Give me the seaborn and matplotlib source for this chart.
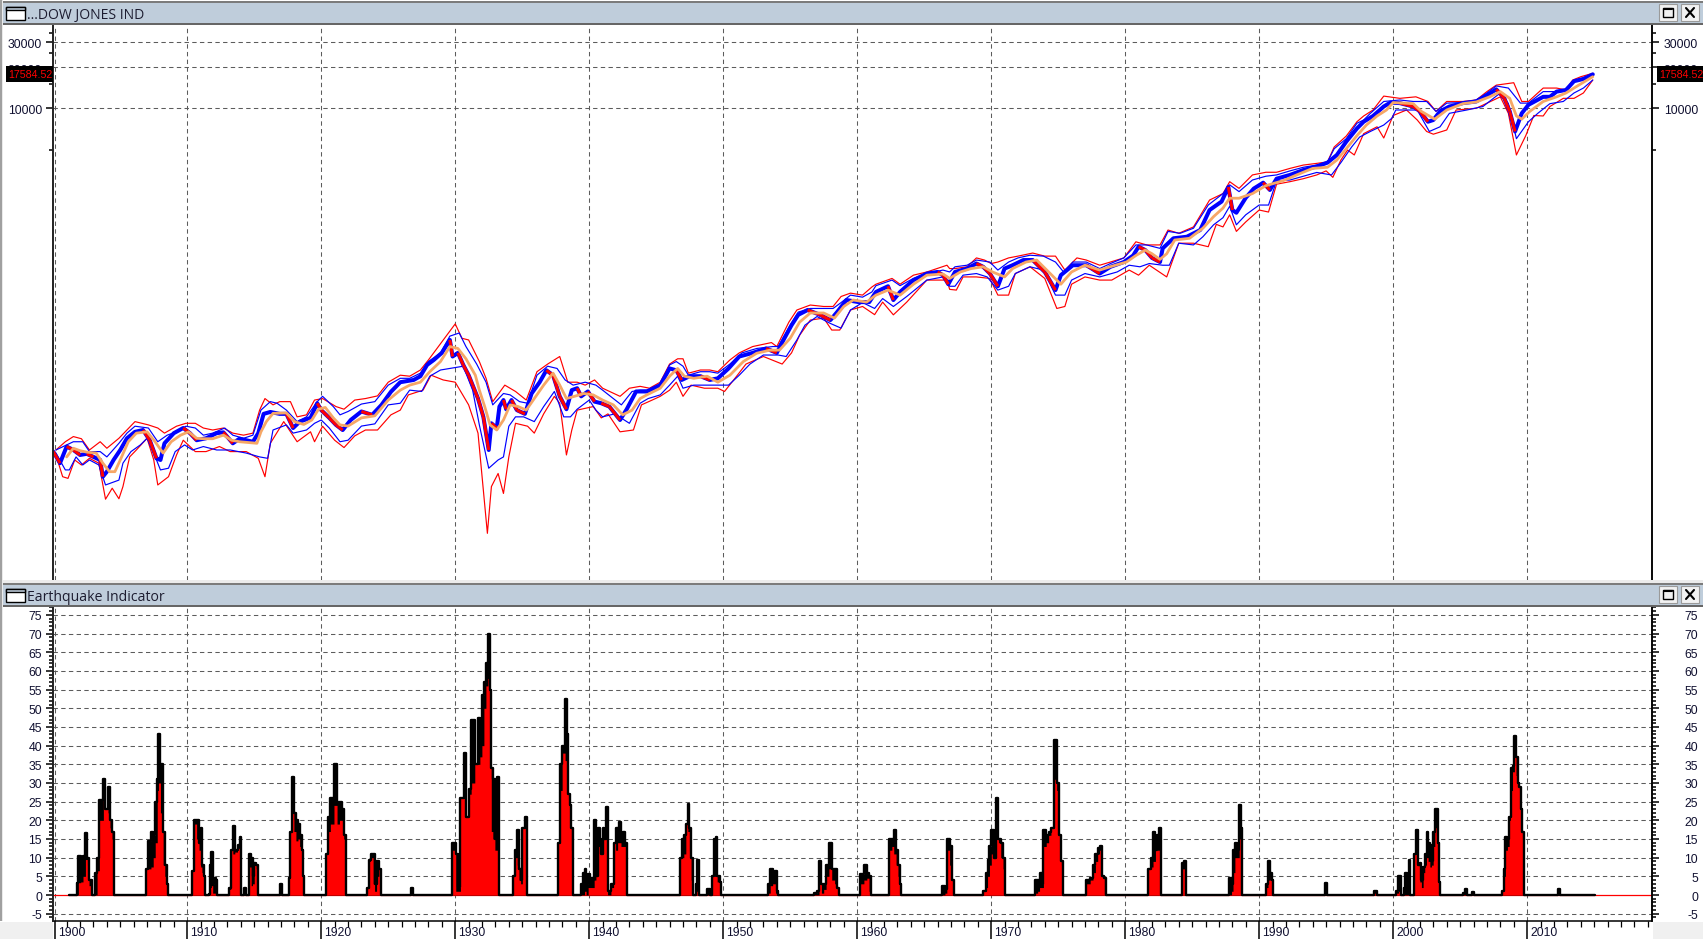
import numpy as np
import matplotlib
matplotlib.use("Agg")
import matplotlib.pyplot as plt
from matplotlib.patches import Rectangle
from matplotlib.ticker import NullFormatter
from matplotlib.transforms import ScaledTranslation
import seaborn as sns

close_years = [1900.0,1900.5,1901.0,1901.5,1902,1902.5,1903,1903.5,1903.7,1904,1904.5,1905,1905.5,1906.1,1906.7,1907.2,1907.7,1908,1908.3,1909,1909.7,1910.2,1910.7,1911.4,1912.2,1912.7,1913.4,1913.9,1914.9,1915.3,1915.7,1916.2,1916.9,1917.4,1917.9,1918.4,1919.2,1919.7,1920,1920.6,1921.1,1921.6,1922.2,1923,1923.8,1924.5,1925.2,1925.9,1926.9,1927.4,1927.9,1928.4,1929,1929.6,1929.8,1930.2,1930.6,1931,1931.3,1931.7,1932.1,1932.5,1932.7,1933.1,1933.3,1933.6,1933.8,1934.2,1934.6,1935.2,1935.7,1936.3,1936.8,1937.3,1937.8,1938.3,1938.7,1939.1,1939.4,1939.9,1940.4,1940.9,1941.5,1942.3,1942.8,1943.5,1944.3,1945.3,1946,1946.5,1946.9,1947.5,1948.3,1949,1949.6,1950.4,1951.2,1952.2,1953.2,1954,1954.5,1955.1,1955.6,1956.3,1957.2,1958,1958.5,1959.2,1960.1,1960.9,1961.4,1962.3,1962.7,1963.2,1964.2,1965.2,1966,1966.4,1966.8,1967.3,1968.2,1968.9,1969.4,1969.9,1970.5,1971,1971.6,1972.4,1973.1,1974,1974.8,1975.2,1976.1,1977.1,1978.1,1978.9,1979.9,1980.6,1981,1981.5,1982,1982.6,1982.8,1983.6,1984.6,1985.6,1986.3,1987.2,1987.7,1988,1988.3,1989,1989.6,1990.3,1990.8,1991.3,1992.3,1993.3,1994.3,1995.1,1995.8,1996.5,1997.3,1997.8,1998.5,1999.3,1999.8,2000.5,2001.5,2002,2002.6,2003,2003.5,2004.2,2005.2,2006.2,2007,2007.7,2008.3,2008.7,2009.1,2009.6,2010.1,2011.2,2011.7,2012.2,2012.9,2013.5,2014.2,2014.9]
close = [33.1,27.3,36,34,31.3,31.9,30.3,28.8,21.8,23.7,28.8,34,41.3,46,47.4,40,29.6,28.8,38,45,49,45,40,41.3,45,45.6,38,41,39,45,62,64,62,62,49,54.5,58,74,66,58,51.6,47.4,56,64.5,61,72,89.5,105,109,116,140,152,171,212,161,171,140,118,100,80,59,34,53,49,70,78,67,78,66,62,87,105,128,118,83,67,92,95,83,90,76,74,70,56,67,90,90,100,132,128,109,116,116,109,112,132,161,171,184,171,212,271,322,349,323,295,337,412,398,398,471,518,412,471,574,640,657,623,536,657,695,756,716,640,518,695,735,801,801,657,486,623,735,735,640,716,775,864,1000,946,830,775,973,1150,1180,1320,1841,2120,2700,1841,1760,2255,2630,2900,2570,3100,3300,3582,3800,4050,4600,5740,7150,8000,8800,10300,11000,10900,10300,9500,8000,8230,9500,10300,10900,11200,12400,13700,11800,9500,6800,9200,10600,12100,12100,13200,13560,15700,16300,17584]

avg_years = [1901,1901.5,1902,1902.5,1903.2,1903.7,1904.2,1904.6,1905,1905.6,1906.2,1907,1907.6,1908.2,1908.8,1909.5,1910.1,1910.7,1911.2,1911.9,1912.7,1913.3,1913.9,1915.2,1915.5,1915.9,1916.4,1917.4,1918,1918.7,1919.3,1919.8,1920.3,1920.9,1921.4,1922,1923,1924,1925,1925.9,1926.6,1927.4,1928.1,1928.9,1929.6,1930.2,1930.8,1931.5,1931.8,1932.2,1932.6,1933.1,1933.6,1934.1,1934.7,1935.3,1935.9,1936.6,1937.3,1937.8,1938.3,1938.9,1939.6,1940.3,1941,1941.8,1942.5,1943.2,1943.8,1944.3,1945.3,1946,1946.6,1947.1,1947.8,1948.8,1949.6,1950.5,1951.5,1952.5,1953.5,1954.2,1955,1955.7,1956.5,1957.5,1958.3,1959,1959.7,1960.7,1961.4,1962.3,1963.2,1964.2,1965.2,1966.4,1966.9,1967.7,1968.5,1969.4,1970.1,1971,1971.6,1972.6,1973.4,1974.4,1975.2,1976,1977,1978.1,1979.1,1980.1,1980.8,1981.5,1982,1982.6,1983.1,1983.7,1984.8,1985.8,1986.6,1987.3,1987.8,1988.5,1989.5,1990.5,1991.8,1992.8,1994,1995.1,1995.8,1996.5,1997.3,1998,1998.8,1999.5,2000,2001.5,2002.1,2003.1,2004,2005.2,2006.2,2007.2,2008,2008.7,2009.2,2009.6,2010.2,2011.2,2012.2,2012.9,2013.9,2014.9]
avg = [30.3,35,33.6,32.8,32.3,27.3,23.7,23.7,28.8,39,45,46,39,32.3,39,43.5,46,41.3,41,41,43.5,40,39,38,46,54.5,62.5,63,54.5,52,56,67,69,58,51.6,50.6,58,60,78,92,100,105,125,148,190,184,155,118,92,70,51.6,47.4,56,72,70,66,80,100,122,100,80,83,87,85,78,72,61,66,80,85,95,116,132,116,112,116,105,118,148,170,179,179,218,285,332,332,305,370,412,398,447,486,447,536,623,635,590,657,695,716,657,605,695,775,801,640,536,657,735,678,727,775,864,946,890,810,890,1118,1150,1360,1650,1900,2240,2240,2420,2760,3000,3300,3680,3750,4230,5100,6350,7570,8800,9720,11000,10800,9500,8350,9720,10800,11100,12100,13200,11800,8800,8350,9500,11200,12100,12900,14800,16900]

inner_up_years = [1900.2,1901,1901.5,1902.2,1902.7,1903.5,1904,1904.9,1905.5,1906.1,1907.1,1907.8,1908.5,1909.2,1909.9,1910.6,1911.2,1911.9,1912.8,1913.4,1914.2,1914.9,1915.5,1916.2,1916.7,1917.4,1918.2,1918.9,1919.7,1920.1,1920.9,1921.4,1922,1923,1924,1925,1925.9,1926.6,1927.4,1928,1928.9,1929.6,1930.3,1930.8,1931.6,1932.3,1932.8,1933.6,1934.1,1934.8,1935.4,1936.1,1936.9,1937.6,1938.2,1938.8,1939.7,1940.5,1941,1941.8,1942.4,1943.2,1943.8,1944.8,1945.3,1946,1946.5,1947,1947.4,1948.3,1949,1949.6,1950.5,1951.4,1952.5,1953.7,1954.1,1955,1955.6,1956.5,1957.5,1958.2,1958.8,1959.5,1960.4,1961.1,1961.4,1962.6,1963.2,1964.2,1965.2,1966.4,1966.9,1967.3,1968.2,1968.9,1969.9,1970.5,1971.3,1972,1972.9,1973.9,1974.8,1975.4,1976.1,1977.1,1978.1,1978.9,1979.9,1980.8,1981.6,1982.6,1983.2,1984.1,1985.1,1986.2,1987.3,1987.8,1988.5,1989.5,1990.5,1991.3,1992.3,1993.3,1994.3,1995.1,1995.6,1996.5,1997.3,1997.8,1998.3,1999.3,2000.5,2001.5,2002.5,2003.2,2004,2005.2,2006.2,2007,2007.7,2008.6,2009.5,2010.1,2011.2,2012.2,2012.9,2013.4,2014,2014.9]
inner_up = [34,37,39,39,33.1,33.1,30.3,38,45,50.5,49,39,43.5,46,50.5,49,43.5,45,49,43.5,41.3,43.5,66,76,74,66,54.5,59,76,83,70,61,64.5,73,76,100,112,112,122,148,171,226,238,190,142,105,72,87,85,76,74,118,137,132,109,100,105,100,92,80,72,90,92,92,100,140,148,137,118,125,125,122,142,171,184,190,190,271,337,358,358,358,395,447,432,471,523,574,523,590,640,678,657,716,735,801,775,678,775,830,868,855,775,657,775,775,695,756,830,1030,1030,973,1290,1250,1360,2000,2420,2800,2500,3033,3230,3300,3530,3750,3890,4100,5100,6030,7800,8230,9200,11200,11480,11200,11200,9500,10900,11000,11480,12900,14500,14000,10900,10900,13200,13200,13560,15700,16300,17650]

inner_low_years = [1900.2,1900.9,1901.2,1901.7,1902.2,1902.7,1903.4,1903.9,1904.9,1905.2,1905.8,1906.5,1907,1907.5,1908,1908.6,1909.1,1909.8,1910.4,1911.2,1912.2,1913.2,1914.4,1915.4,1916,1916.4,1917.4,1917.9,1918.9,1919.5,1920,1920.6,1921.4,1922,1923,1924,1925,1925.9,1926.6,1927.5,1928.1,1928.9,1929.6,1930.6,1931.3,1931.8,1932.5,1933.2,1933.6,1934,1934.5,1935.1,1935.9,1936.6,1937.4,1938.1,1938.6,1939.1,1940,1940.5,1941,1941.9,1943,1943.8,1944.4,1945.3,1946,1946.6,1947,1947.8,1948.8,1949.6,1950.4,1951.2,1952,1953,1954.1,1954.7,1955.5,1956.1,1957,1958,1958.8,1959.5,1960.4,1961.3,1961.9,1962.7,1963.7,1965.2,1966.4,1966.9,1967.3,1967.9,1968.9,1969.7,1970.5,1971.3,1971.8,1972.9,1973.9,1974.8,1975.5,1976,1977,1978.1,1979.4,1980.3,1981.1,1981.8,1982.8,1983.3,1984,1985.1,1985.8,1986.6,1987.3,1987.8,1988.3,1989,1990,1990.7,1991.3,1992.3,1993.3,1994.3,1995.4,1996.1,1996.9,1997.5,1998.3,1999.3,1999.9,2000.2,2001,2001.8,2002.7,2003.5,2004.2,2005.5,2006.7,2008,2008.6,2009.2,2010.1,2010.8,2011.7,2012.7,2013.5,2014.2,2014.9]
inner_low = [32.3,24.4,24.4,30.3,26.5,28.8,26.5,19,20.6,27.3,33.1,37,41.3,32.3,24.4,25.1,33.1,37,34,36,34,34,32.3,30.3,29.6,47.4,51.6,45,47.4,53,56,49,39,40,50.6,52.5,72,74,92,90,116,128.6,132,137,92,51.6,25.1,28.8,30.3,50.5,59,59,54.5,70,90,59,59,67,78,66,59,62,53,74,80,85,100,116,95,100,100,100,100,118,142,165,165,161,212,271,313,279,258,349,395,358,422,370,437,574,605,518,518,623,640,605,486,518,640,716,678,447,447,574,640,605,657,735,716,756,735,735,1060,1030,1180,1440,1620,1960,1440,1700,2000,2000,3000,3033,3230,3440,3300,4050,5250,6200,6800,7570,8470,9720,9720,9720,6800,7350,9200,9720,10300,12900,10800,6030,8000,9200,10800,11200,12900,14000,16000]

outer_up_years = [1900.2,1900.9,1901.5,1902.1,1902.7,1903.5,1904,1904.9,1905.5,1906.1,1907.1,1907.8,1908.3,1909.2,1909.9,1910.6,1911.2,1911.9,1912.7,1913.4,1914.2,1914.9,1915.4,1915.8,1916.4,1916.9,1917.7,1918.2,1918.9,1919.5,1920.1,1921.1,1921.7,1922.5,1923.3,1924.2,1925,1925.9,1926.6,1927.4,1928,1929,1930,1930.5,1931,1931.8,1932.3,1932.8,1933.7,1934.5,1935.3,1936.1,1936.9,1937.8,1938.4,1939.1,1939.7,1940.4,1941,1942.3,1943,1943.8,1944.5,1945.3,1946,1946.6,1947,1947.4,1948.3,1949,1949.6,1950.5,1951.2,1952.2,1953.6,1954,1954.9,1955.5,1956.5,1957.5,1958.2,1958.8,1959.5,1960.4,1961.1,1961.4,1962.6,1963.2,1964.2,1965.2,1966.7,1966.9,1967.3,1968.2,1968.9,1969.5,1970,1970.5,1971.3,1972,1973.1,1974,1974.8,1975.5,1976.4,1977.1,1978.1,1978.9,1979.9,1980.8,1981.6,1982.6,1983.2,1984,1985.1,1986.3,1987.3,1987.8,1988.5,1989.5,1990.5,1991.3,1992.3,1993.3,1994.3,1995.1,1995.6,1996.5,1997.3,1997.8,1998.5,1999.3,2000.5,2001.7,2002.6,2003.2,2004,2005.2,2006.2,2007,2007.7,2009,2009.6,2010.1,2011.2,2012.2,2012.9,2013.4,2014,2014.9]
outer_up = [34,39,42.5,41,34,39,35,41.3,47.4,54.5,51.6,49,45,50.5,53,53,49,47.4,49,45,43.5,45,66,80,72,76,76,59,61,78,80,70,67,78,80,83.6,105,118,116,128.6,152,205,277,218,212,148,112,76,100,90,78,125,142,161,105,105,100,109,95,83,95,98,95,105,142,155,155,122,128.6,128.6,125,152,171,190,203,190,285,349,379,370,370,437,462,447,512,536,590,536,623,657,735,695,695,716,830,801,756,775,830,855,900,855,855,678,830,801,735,775,830,1085,1030,1030,1320,1250,1390,2174,2420,2950,2640,3300,3450,3450,3680,3890,4000,4100,5250,6300,8000,8800,9720,12250,11800,12100,11200,9500,11200,11200,11480,13200,14700,15300,11200,11200,14000,14000,13560,16000,16900,17900]

outer_low_years = [1900.2,1900.7,1901.1,1901.6,1902.1,1902.7,1903.4,1903.9,1904.4,1904.9,1905.2,1905.7,1906.2,1907,1907.5,1907.8,1908.6,1909.2,1909.7,1910.6,1911.4,1912.4,1913.2,1914.4,1915.3,1915.8,1916.2,1917.2,1918.2,1919.2,1919.5,1920.1,1921,1921.7,1922.5,1923.3,1924.2,1925.2,1925.9,1926.5,1927.6,1928.2,1929.1,1930,1931,1931.7,1932.4,1932.7,1933.2,1933.6,1934,1934.5,1935.4,1935.9,1936.6,1937.4,1937.8,1938.3,1938.7,1939.1,1940.3,1940.9,1941.4,1942.3,1943.3,1943.9,1944.7,1945.3,1946,1946.5,1947,1947.6,1948.6,1949.6,1950.1,1951,1951.7,1953,1954.4,1955.1,1955.7,1956.5,1957.5,1958.1,1958.7,1959.5,1960.4,1961.3,1961.9,1962.7,1963.7,1965.2,1966.7,1966.9,1967.4,1967.9,1968.9,1969.9,1970.5,1971.3,1971.8,1972.9,1974,1974.9,1975.5,1976,1977,1978.1,1979,1980.3,1981,1981.8,1983.1,1984,1985.1,1986.2,1986.8,1987.3,1987.8,1988.3,1989,1990,1990.7,1991.3,1992.3,1993.3,1994.3,1995,1995.5,1996.1,1996.6,1997.1,1997.8,1998.8,1999.3,2000,2001,2001.8,2002.5,2003,2004,2004.7,2006.2,2008,2008.6,2009.2,2009.9,2010.5,2011.2,2011.7,2012.7,2013.5,2014.2,2014.9]
outer_low = [31.3,21.8,21.2,28.8,26.5,29.6,27.3,15,18,15.1,18.5,30.3,34,41.3,28.8,19,21.8,31.3,40,33.1,33.1,36,33.1,33.1,29.6,21.8,38,54.5,39,46,39,50.5,40,35.4,43,47.4,47.4,61,66,85,92,118,109,105,72,45,8.5,18.5,23,16.5,30.3,53,50.5,45,62,83,74,31.3,47.4,66,70,58,62,46,47.4,72,78,83,92,105,83,100,95,95,90,116,142,161,142,171,229,295,305,250,250,349,370,323,398,322,398,574,574,492,486,605,605,590,447,447,640,716,590,358,370,536,605,574,574,678,623,735,605,1060,1060,1000,1450,1390,1700,1290,1510,1841,1780,2830,2950,3100,3300,3530,3170,4230,4996,4600,6560,7350,6100,8870,9720,8230,6800,6500,6970,9720,10000,12100,9200,4600,6350,8870,8800,10300,11800,11800,12900,16000]

# Earthquake indicator: outer (black) and inner (red) series
quake_years = [1901.15,1901.77,1901.87,1902.05,1902.22,1902.4,1902.55,1902.67,1902.87,1903.12,1903.27,1903.44,1903.74,1903.87,1904.09,1904.24,1904.39,1904.52,1906.89,1907.09,1907.29,1907.46,1907.61,1907.76,1907.85,1908.0,1908.21,1908.33,1908.46,1908.58,1910.33,1910.53,1910.7,1910.88,1911.0,1911.1,1911.25,1911.35,1911.6,1911.7,1911.8,1911.9,1912.02,1912.15,1912.25,1913.12,1913.25,1913.4,1913.55,1913.75,1913.9,1914.02,1914.2,1914.37,1914.62,1914.77,1914.87,1915.0,1915.15,1915.25,1916.9,1917.05,1917.59,1917.69,1917.81,1917.96,1918.11,1918.26,1918.39,1918.54,1918.64,1918.74,1920.36,1920.51,1920.68,1920.95,1921.18,1921.36,1921.53,1921.68,1921.83,1923.43,1923.53,1923.68,1923.88,1923.98,1924.13,1924.3,1924.48,1926.7,1926.87,
    1929.79,1930.04,1930.22,1930.39,1930.64,1930.79,1931.01,1931.19,1931.46,1931.69,1931.84,1931.99,1932.14,1932.29,1932.44,1932.59,1932.69,1932.81,1932.96,1933.11,1933.23,1933.28,1934.33,1934.48,1934.63,1934.76,1934.88,1935.01,1935.21,1935.36,1937.65,1937.83,1937.98,1938.2,1938.33,1938.45,1938.57,1938.67,1938.8,1939.4,1939.52,1939.65,1939.77,1939.92,1940.07,1940.27,1940.37,1940.5,1940.62,1940.77,1940.9,1941.02,1941.14,1941.27,1941.37,1941.62,1941.82,1941.97,1942.12,1942.22,1942.37,1942.52,1942.67,1942.82,1946.76,1946.91,1947.06,1947.21,1947.36,1947.48,1947.61,1947.73,1947.98,1948.08,1948.2,1948.8,1949.05,
    1949.2,1949.31,1949.45,1949.55,1949.73,1949.84,1953.33,1953.51,1953.69,1953.9,1954.04,1954.11,1956.8,1957.01,1957.15,1957.33,1957.5,1957.68,1957.89,1958.1,1958.32,1958.49,1958.63,1960.22,1960.5,1960.72,1960.89,1961.03,1962.35,1962.59,1962.73,1962.91,1963.05,1963.23,1963.3,1966.3,1966.55,1966.69,1966.9,1967.08,1967.19,1969.37,1969.59,1969.73,1969.87,1970.01,1970.19,1970.36,1970.54,1970.72,1970.89,1971.0,1973.26,1973.47,1973.61,1973.79,1973.9,1974.11,1974.29,1974.46,1974.67,1974.89,1975.06,1975.24,1975.38,
    1977.11,1977.39,1977.6,1977.78,1977.95,1978.09,1978.27,1978.45,1978.55,1981.7,1981.91,1982.08,1982.26,1982.4,1982.54,1982.65,1984.25,1984.42,1984.53,1987.77,1987.94,1988.05,1988.19,1988.33,1988.51,1988.65,1988.75,1990.54,1990.66,1990.84,1990.98,1991.05,1994.95,1995.08,1998.55,1998.8,
    2000.2,2000.4,2000.62,2000.8,2000.92,2001.04,2001.17,2001.27,2001.57,2001.69,2001.82,2001.99,2002.11,2002.24,2002.36,2002.49,2002.61,2002.74,2002.86,2002.99,2003.11,2003.23,2003.33,2003.43,2003.53,2005.2,2005.37,2005.53,2005.9,2006.03,2008.16,2008.26,2008.38,2008.53,2008.66,2008.76,2008.91,2009.05,2009.18,2009.3,2009.43,2009.53,2009.65,2009.73,2009.78,2012.3,2012.47,2015.05]
quake_outer = [0,3.2,10.5,5,10.5,16.5,10,4,0,6,10,25.5,31,23,29,20,17,0,7,14.5,17,16,25,31,43,35,17,8,3,0,6.5,20,20,14,18,8,5,0,0.3,8,11.5,3,4.5,4,0,2,12,18.5,12,13.5,15.5,0,1.8,0,11,10,5,8.5,8,0,3,0,4.5,17,31.5,22,20,19,16,12,5,0,11,21,26,35,25,25,23,16,0,2,9.5,11,11,3,9,7,0,2,0,
    13.8,11,2.2,26,38,21,28.5,47,35,47.5,47,53.5,57,62,70,55,34,31,15,31.7,20,0,5,12,17.5,7,4,18,21,0,14,35,40,52.5,43,27,24,18,0,3,6,7,3,5.5,4.5,4,20,5,18,15,11,18,15,23.5,1,3,14,18,15,19.5,15,17,14,0,10,15,16,19,24.5,18,10,0,3,9.5,0,1.5,0,
    5,15,15.5,5,3.5,0,3,7,5,6.5,1,0,0.5,1,9,3,3,8,14,7,7,2,0,5.5,8,6,5,0,15,15,17.5,12,8,3,0,2.5,1.5,15,13,4,0,1,6,9.5,13,17.5,10,26,15,14,10,0,4,4,6,3,17.5,16,17,18,41.5,30,16,9,0,
    4,4.5,8,11,12.5,13,5,4.5,0,7,10,17,12,16,18,0,8.5,9,0,4.5,3,12,14,12,24,18,0,3,9,6,4,0,3.3,0,1.2,0,
    1,5,0,2,6,1,9.5,0,11,17.5,8,8.5,4,7.5,11,17,14,13.5,9,17,23,23,14,3.5,0,0.5,1.7,0,0.7,0,1,7,15.5,15,21,34,34.5,42.5,37,30,29,23,17,10,0,1.7,0,0]
quake_inner = [0,0,3.3,3.5,5,9.5,8,2.5,0,0,6.5,20,28,23,22,18,15,0,7,7,7.5,10,14,28,30,22,8,5,2,0,6.5,19,15,12,7.5,6,5,0,0,2,2.5,0.5,0.5,0,0,1.5,12,11,11.5,12.5,13,0,0,0,7.5,2.5,3,8,7,0,0,0,4.5,17,22.5,17,14.5,15,13,12,5,0,11,17,19,24,19,20,20,15,0,2,9,10,3,1,5,7,0,0,0,
    12,1,1,26,28,21,27,30,35,35,37,40,50,56,58,45,17,15,12,12,12,0,5,10,8,4,3,18,18,0,14,28,38,36,35,27,22,12,0,0,0,1,0,2,2,2,4,5,13,13,11,18,15,18,0,2,14,12,14,14,13,13,13,0,10,10,11,19,17,12,4,0,1,0.5,0,0,0,
    5,5,5,3.5,3,0,0.5,2.5,3,0.5,0,0,0,0,3,0.5,1.5,5,7,4,3,2,0,3,4,4.5,1,0,12,13,11,8,5,2,0,0,0.5,12,8,4,0,1,2,5,8,11,10,21,14,10,7,0,0.5,1,2,2,13,14,16,18,31,28,16,8,0,
    3,4,6,9,11,12,5,0,0,7,7.5,9,12,12,12,0,7,7,0,0,1,6,10,10,15,18,0,2,4,5,3,0,0,0,0.5,0,
    0.5,1,0,0,0,0,0,0,11,11,8,3.5,2,6,8,10,9,7.5,8,13,18,16,14,3,0,0,0,0,0,0,1,5,12,13,20,28,33,37,32,30,28,20,15,10,0,0,0,0]

price_ticks = [5000, 10000, 15000, 20000, 25000, 30000, 35000]
quake_ticks = list(range(-5, 80, 5))
decades = list(range(1900, 2020, 10))
last_price = "17584.52"

W, H = 1703, 939
sns.set_theme(style="white")
plt.rcParams['font.family'] = ['Liberation Sans', 'DejaVu Sans']
TXT = '#101030'
GRID = '#5c5c5c'
XMIN, XMAX = 1899.98, 2019.32


def panel(top, bottom):
    return plt.gcf().add_axes([53 / W, 1 - bottom / H, (1652 - 53) / W, (bottom - top) / H])


def line(ax, x, y, color, lw, **kw):
    sns.lineplot(x=x, y=y, ax=ax, color=color, linewidth=lw, estimator=None, sort=False, errorbar=None, **kw)


def style_panel(ax, ylim, major, labels, minor, hgrid):
    ax.set_xlim(XMIN, XMAX)
    ax.set_ylim(*ylim)
    ax.set_facecolor('white')
    ax.set_xticks([])
    for s in ['top', 'bottom']:
        ax.spines[s].set_visible(False)
    for s in ['left', 'right']:
        ax.spines[s].set_visible(True)
        ax.spines[s].set_color('black')
        ax.spines[s].set_linewidth(1.1)
    for d in decades:
        ax.axvline(d if d > 1900 else 1900.14, color=GRID, lw=0.75, ls=(0, (4.2, 3.2)), zorder=0.5)
    for g in hgrid:
        ax.axhline(g, color=GRID, lw=0.75, ls=(0, (4.2, 3.2)), zorder=0.5)
    twin = ax.twinx()
    twin.set_yscale(ax.get_yscale())
    twin.set_ylim(*ylim)
    twin.spines['top'].set_visible(False)
    twin.spines['bottom'].set_visible(False)
    twin.spines['right'].set_color('black')
    twin.spines['right'].set_linewidth(1.1)
    twin.grid(False)
    for a, side, pad in [(ax, 'left', 2.9), (twin, 'right', 28.2)]:
        a.set_yticks(major)
        a.set_yticklabels(labels, color=TXT, fontsize=8.8)
        a.set_yticks(minor, minor=True)
        a.yaxis.set_minor_formatter(NullFormatter())
        a.yaxis.set_ticks_position(side)
        a.tick_params(axis='y', which='major', length=5, width=1.1, color='black', pad=pad, left=side == 'left', right=side == 'right')
        a.tick_params(axis='y', which='minor', length=2.6, width=1.1, color='black', left=side == 'left', right=side == 'right')
        # labels sit a touch below their ticks, the hidden 20000 a bit lower still
        for t in a.get_yticklabels():
            drop = 3.0 if t.get_text() == "20000" else 1.0
            t.set_transform(t.get_transform() + ScaledTranslation(0, -drop / 100, a.figure.dpi_scale_trans))
    for t in twin.get_yticklabels():
        t.set_ha('right')


fig = plt.figure(figsize=(W / 100, H / 100), dpi=100, facecolor='white')

# top panel: index with bands
ax = panel(25, 580)
ax.set_yscale('log')
line(ax, outer_up_years, outer_up, '#ff0000', 0.85)
line(ax, outer_low_years, outer_low, '#ff0000', 0.85)
line(ax, inner_up_years, inner_up, '#0000ff', 0.85)
line(ax, inner_low_years, inner_low, '#0000ff', 0.85)
line(ax, close_years, close, '#0000ff', 2.9)
for i in range(len(close) - 1):
    if close[i + 1] < close[i] * 0.95:
        ax.plot(close_years[i:i + 2], close[i:i + 2], color='#ff0000', lw=2.2, solid_capstyle='butt')
line(ax, avg_years, avg, '#f6a766', 2.0)
style_panel(ax, (3.91, 39970), [10000, 20000, 30000], ["10000", "20000", "30000"],
            [p for p in price_ticks if p % 10000], [10000, 20000, 30000])

# bottom panel: earthquake indicator
bx = panel(607, 921)
bx.axhline(0, xmin=0, xmax=1, color='#ff0000', lw=0.9, zorder=1)
bx.fill_between(quake_years, quake_outer, step='post', color='black', lw=0, zorder=2)
bx.fill_between(quake_years, quake_inner, step='post', color='#ff0000', lw=0, zorder=3)
sns.lineplot(x=quake_years, y=quake_outer, ax=bx, color='black', linewidth=1.7, estimator=None, sort=False,
             errorbar=None, drawstyle='steps-post', zorder=4)
style_panel(bx, (-6.96, 77.13), quake_ticks, [str(v) for v in quake_ticks],
            [v for v in range(-6, 78) if v % 5], [v for v in quake_ticks if v != 0])
bx.spines['bottom'].set_visible(True)
bx.spines['bottom'].set_color('black')
bx.spines['bottom'].set_linewidth(1.1)
bx.set_xticks([d if d > 1900 else 1900.14 for d in decades])
bx.set_xticklabels([])
bx.set_xticks(list(range(1901, 2020)), minor=True)
bx.tick_params(axis='x', which='major', bottom=True, length=13, width=1.1, color='black')
bx.tick_params(axis='x', which='minor', bottom=True, length=4, width=0.9, color='black')
for d in decades:
    bx.annotate(str(d), xy=(d if d > 1900 else 1900.14, 0), xycoords=('data', 'axes fraction'),
                xytext=(3, -6.5), textcoords='offset pixels', ha='left', va='top', color=TXT,
                fontsize=8.8, annotation_clip=False)

# window frames drawn in pixel space
ov = fig.add_axes([0, 0, 1, 1], zorder=10)
ov.set_xlim(0, W)
ov.set_ylim(H, 0)
ov.axis('off')


def box(x, y, w, h, fc, ec='none', lw=0):
    ov.add_patch(Rectangle((x, y), w, h, facecolor=fc, edgecolor=ec, linewidth=lw))


def title_bar(top, label):
    box(0, top - 1, W, 2, '#7c7c7c')
    box(1, top + 1, W - 1, 20, '#bfcddb')
    box(0, top + 21, W, 2, '#666666')
    box(6, top + 5, 19, 13, 'white', 'black', 1.0)
    box(6, top + 5, 19, 3, '#bfcddb', 'black', 1.0)
    ov.text(27, top + 13.5, label, color='#1c1c30', fontsize=10.1, va='center', ha='left',
            family=['Open Sans', 'DejaVu Sans'])
    for bx0 in (1659, 1681):
        box(bx0, top + 2, 18, 17, '#f2f2f2', '#9a9a9a', 0.8)
    box(1663, top + 6, 10, 9, 'none', 'black', 1.0)
    ov.plot([1664, 1672], [top + 6.5, top + 6.5], color='black', lw=1.5)
    ov.plot([1686, 1694], [top + 6, top + 15], color='black', lw=1.5)
    ov.plot([1686, 1694], [top + 15, top + 6], color='black', lw=1.5)


box(0, 580, W, 4, '#ececec')
title_bar(2, "...DOW JONES IND")
title_bar(584, "Earthquake Indicator")
box(0, 0, 2, 921, '#a0a0a0')
box(2, 0, 1, 921, '#eaeaea')
box(0, 921.5, 52.5, 18, '#f0f0f0')
box(1653, 921.5, 50, 18, '#f0f0f0')

for bx0, tx in ((6, 8), (1657, 1659)):
    box(bx0, 66, 47 if bx0 == 6 else 46, 16, 'black')
    ov.text(tx, 74.5, last_price, color='#ff0000', fontsize=7.7, va='center', ha='left', clip_on=True)

fig.savefig('out.png', dpi=100, facecolor=fig.get_facecolor())
